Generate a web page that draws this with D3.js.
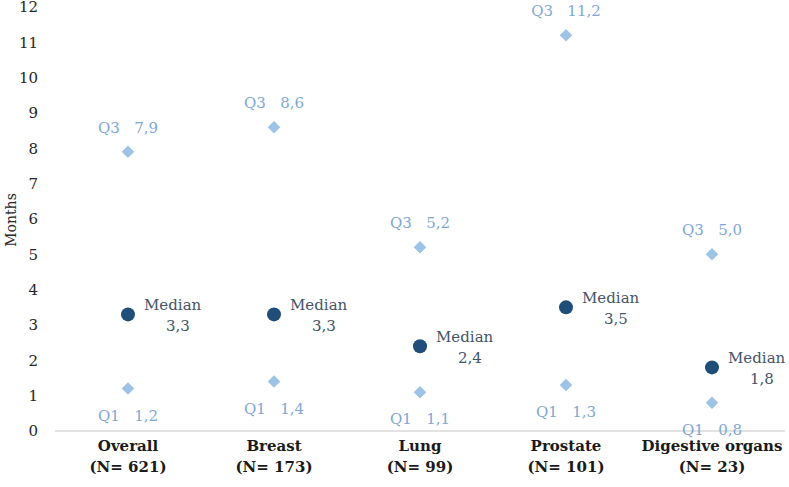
<!DOCTYPE html>
<html>
<head>
<meta charset="utf-8">
<script src="https://cdn.jsdelivr.net/npm/d3@7"></script>
<style>
  body { margin: 0; background: #fff; }
  text { font-family: "DejaVu Serif", serif; white-space: pre; }
</style>
</head>
<body>
<div id="chart"></div>
<script>
// chart data
const categories = ["Overall", "Breast", "Lung", "Prostate", "Digestive organs"];
const counts = ["(N= 621)", "(N= 173)", "(N= 99)", "(N= 101)", "(N= 23)"];
const q1Values = [1.2, 1.4, 1.1, 1.3, 0.8];
const medianValues = [3.3, 3.3, 2.4, 3.5, 1.8];
const q3Values = [7.9, 8.6, 5.2, 11.2, 5.0];
const yTicks = [0, 1, 2, 3, 4, 5, 6, 7, 8, 9, 10, 11, 12];

const fmt = v => d3.format(".1f")(v).replace(".", ",");

// sizes
const margin = {top: 7, right: 4, bottom: 56, left: 55},
    width = 789 - margin.left - margin.right,
    height = 487 - margin.top - margin.bottom;

const x = d3.scaleBand()
    .domain(categories)
    .range([0, width]);
const y = d3.scaleLinear()
    .domain([0, 12])
    .range([height, 0]);

const svg = d3.select("#chart").append("svg")
    .attr("width", 789)
    .attr("height", 487)
    .append("g")
    .attr("transform", "translate(" + margin.left + "," + margin.top + ")");

// y axis (labels only)
const yAxis = svg.append("g")
    .call(d3.axisLeft(y).tickValues(yTicks).tickSize(0).tickPadding(17));
yAxis.select(".domain").remove();
yAxis.selectAll("text")
    .style("font-family", "DejaVu Serif")
    .style("font-size", "15px")
    .attr("fill", "#262626");

svg.append("text")
    .attr("transform", "rotate(-90)")
    .attr("x", -213)
    .attr("y", -39)
    .style("text-anchor", "middle")
    .style("font-size", "14px")
    .attr("fill", "#262626")
    .text("Months");

// x axis baseline
svg.append("line")
    .attr("x1", 0)
    .attr("x2", width)
    .attr("y1", y(0))
    .attr("y2", y(0))
    .attr("stroke", "#d9d9d9")
    .attr("stroke-width", 1.3);

const cx = d => x(d) + x.bandwidth() / 2;

// category labels
const xl = svg.append("g").selectAll("text")
    .data(categories)
    .enter().append("text")
    .attr("x", cx)
    .attr("y", height + 20)
    .style("text-anchor", "middle")
    .style("font-size", "15px")
    .style("font-weight", "bold")
    .attr("fill", "#1a1a1a");
xl.append("tspan").attr("x", cx).attr("dy", 0).text(d => d);
xl.append("tspan").attr("x", cx).attr("dy", 21).text((d, i) => counts[i]);

const diamond = d3.symbol().type(d3.symbolSquare).size(78);

// Q3 points
svg.selectAll(".q3")
    .data(categories)
    .enter().append("path")
    .attr("class", "q3")
    .attr("d", diamond)
    .attr("transform", (d, i) => "translate(" + cx(d) + "," + y(q3Values[i]) + ") rotate(45)")
    .attr("fill", "#9dc3e6");

svg.selectAll(".q3lab")
    .data(categories)
    .enter().append("text")
    .attr("x", cx)
    .attr("y", (d, i) => y(q3Values[i]) - 19)
    .style("text-anchor", "middle")
    .style("font-size", "15px")
    .attr("fill", "#7fa7d6")
    .text((d, i) => "Q3   " + fmt(q3Values[i]));

// Q1 points
svg.selectAll(".q1")
    .data(categories)
    .enter().append("path")
    .attr("class", "q1")
    .attr("d", diamond)
    .attr("transform", (d, i) => "translate(" + cx(d) + "," + y(q1Values[i]) + ") rotate(45)")
    .attr("fill", "#9dc3e6");

svg.selectAll(".q1lab")
    .data(categories)
    .enter().append("text")
    .attr("x", cx)
    .attr("y", (d, i) => y(q1Values[i]) + 32)
    .style("text-anchor", "middle")
    .style("font-size", "15px")
    .attr("fill", "#7fa7d6")
    .text((d, i) => "Q1   " + fmt(q1Values[i]));

// medians
svg.selectAll(".med")
    .data(categories)
    .enter().append("circle")
    .attr("class", "med")
    .attr("cx", cx)
    .attr("cy", (d, i) => y(medianValues[i]))
    .attr("r", 7)
    .attr("fill", "#1f4e79");

const ml = svg.selectAll(".medlab")
    .data(categories)
    .enter().append("text")
    .attr("y", (d, i) => y(medianValues[i]) - 4)
    .style("font-size", "15px")
    .attr("fill", "#44546a");
ml.append("tspan").attr("x", d => cx(d) + 16).text("Median");
ml.append("tspan").attr("x", d => cx(d) + 38).attr("dy", 21).text((d, i) => fmt(medianValues[i]));
</script>
</body>
</html>
